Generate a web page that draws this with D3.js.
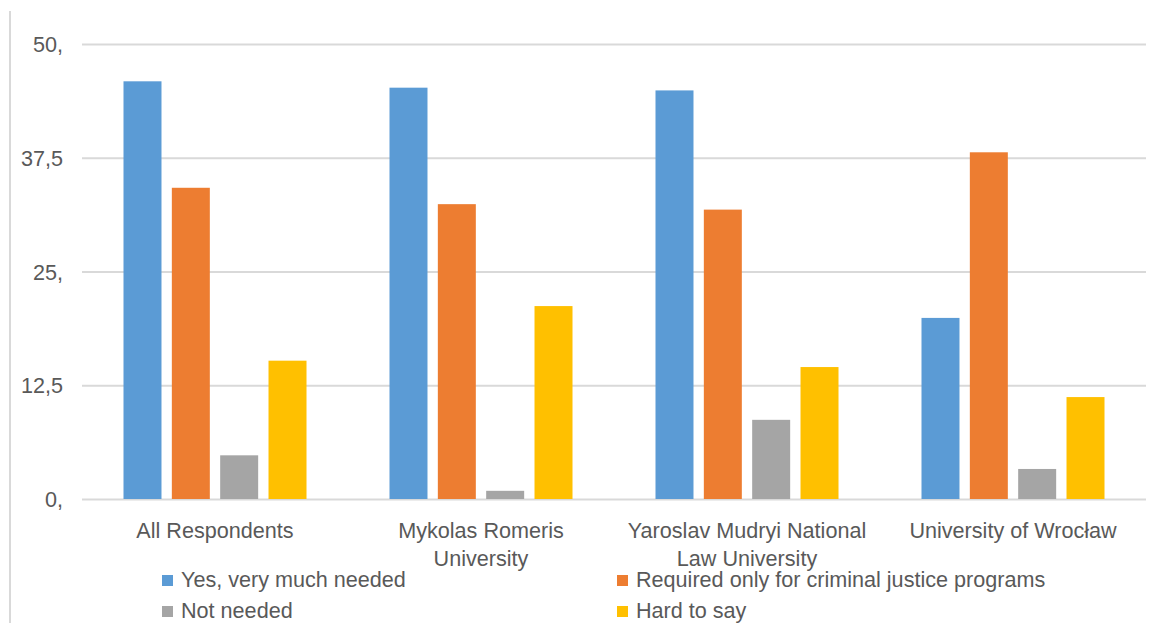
<!DOCTYPE html>
<html>
<head>
<meta charset="utf-8">
<script src="https://cdn.jsdelivr.net/npm/d3@7"></script>
<style>
  body { margin: 0; background: #ffffff; }
  text { font-family: "Liberation Sans", Arial, sans-serif; fill: #595959; }
</style>
</head>
<body>
<div id="chart"></div>
<script>
// data
var categories = ["All Respondents", "Mykolas Romeris University", "Yaroslav Mudryi National Law University", "University of Wrocław"]
var categoryLines = [["All Respondents"], ["Mykolas Romeris", "University"], ["Yaroslav Mudryi National", "Law University"], ["University of Wrocław"]]
var seriesNames = ["Yes, very much needed", "Required only for criminal justice programs", "Not needed", "Hard to say"]
var seriesColors = ["#5b9bd5", "#ed7d31", "#a5a5a5", "#ffc000"]
var yesValues = [45.9, 45.2, 44.9, 19.9]
var requiredValues = [34.2, 32.4, 31.8, 38.1]
var notNeededValues = [4.8, 0.9, 8.7, 3.3]
var hardValues = [15.2, 21.2, 14.5, 11.2]
var tickValues = [0, 12.5, 25, 37.5, 50]
var tickLabels = ["0,", "12,5", "25,", "37,5", "50,"]

var allSeries = [yesValues, requiredValues, notNeededValues, hardValues]

var width = 1149
var height = 623
var margin = {top: 44, left: 82, right: 3, bottom: 124}
var fontSize = "21.6px"

var svg = d3.select("#chart")
  .append("svg")
  .attr("width", width)
  .attr("height", height)

// chart border, only the left edge shows
svg.append("line")
  .attr("x1", 10).attr("x2", 10)
  .attr("y1", 11).attr("y2", height)
  .attr("stroke", "#d9d9d9")
  .attr("stroke-width", 2)

var x0 = d3.scaleBand()
  .domain(categories)
  .range([margin.left, width - margin.right])
  .paddingInner(0.312)
  .paddingOuter(0.156)

var x1 = d3.scaleBand()
  .domain(seriesNames)
  .range([0, x0.bandwidth()])
  .paddingInner(0.214)

var y = d3.scaleLinear()
  .domain([0, 50])
  .range([height - margin.bottom, margin.top])

//Grid lines
var yAxis = d3.axisLeft(y)
  .tickValues(tickValues)
  .tickSize(-(width - margin.right - margin.left))
  .tickFormat(function(d, i){ return tickLabels[i] })

var gAxis = svg.append("g")
  .attr("transform", "translate(" + margin.left + ",0)")
  .call(yAxis)

gAxis.select(".domain").remove()
gAxis.selectAll(".tick line")
  .attr("stroke", "#d9d9d9")
  .attr("stroke-width", 2)
gAxis.selectAll(".tick text")
  .attr("x", -19)
  .attr("dy", "0.35em")
  .style("font-size", fontSize)
  .style("font-family", "Liberation Sans, Arial, sans-serif")
  .attr("fill", "#595959")

//Bars
var groups = svg.selectAll(".group")
  .data(categories)
  .enter()
  .append("g")
  .attr("class", "group")
  .attr("transform", function(d){ return "translate(" + x0(d) + ",0)" })

groups.selectAll("rect")
  .data(function(d, i){
    return seriesNames.map(function(s, j){ return {series: s, value: allSeries[j][i], color: seriesColors[j]} })
  })
  .enter()
  .append("rect")
  .attr("x", function(d){ return x1(d.series) })
  .attr("width", x1.bandwidth())
  .attr("y", function(d){ return y(d.value) })
  .attr("height", function(d){ return y(0) - y(d.value) })
  .attr("fill", function(d){ return d.color })

//Category labels
svg.selectAll(".catLabel")
  .data(categories)
  .enter()
  .append("text")
  .attr("class", "catLabel")
  .attr("text-anchor", "middle")
  .style("font-size", fontSize)
  .attr("x", function(d){ return x0(d) + x0.bandwidth()/2 })
  .attr("y", 538)
  .each(function(d, i){
    var t = d3.select(this)
    categoryLines[i].forEach(function(line, k){
      t.append("tspan")
        .attr("x", x0(d) + x0.bandwidth()/2)
        .attr("dy", k == 0 ? 0 : 28)
        .text(line)
    })
  })

//Legend
var legendX = [162, 617]
var legendY = [587, 618]
var legend = svg.selectAll(".legend")
  .data(seriesNames)
  .enter()
  .append("g")
  .attr("class", "legend")
  .attr("transform", function(d, i){ return "translate(" + legendX[i % 2] + "," + legendY[Math.floor(i/2)] + ")" })

legend.append("rect")
  .attr("x", 0)
  .attr("y", -12)
  .attr("width", 11)
  .attr("height", 11)
  .attr("fill", function(d, i){ return seriesColors[i] })

legend.append("text")
  .attr("x", 19)
  .attr("y", 0)
  .style("font-size", fontSize)
  .text(function(d){ return d })
</script>
</body>
</html>
